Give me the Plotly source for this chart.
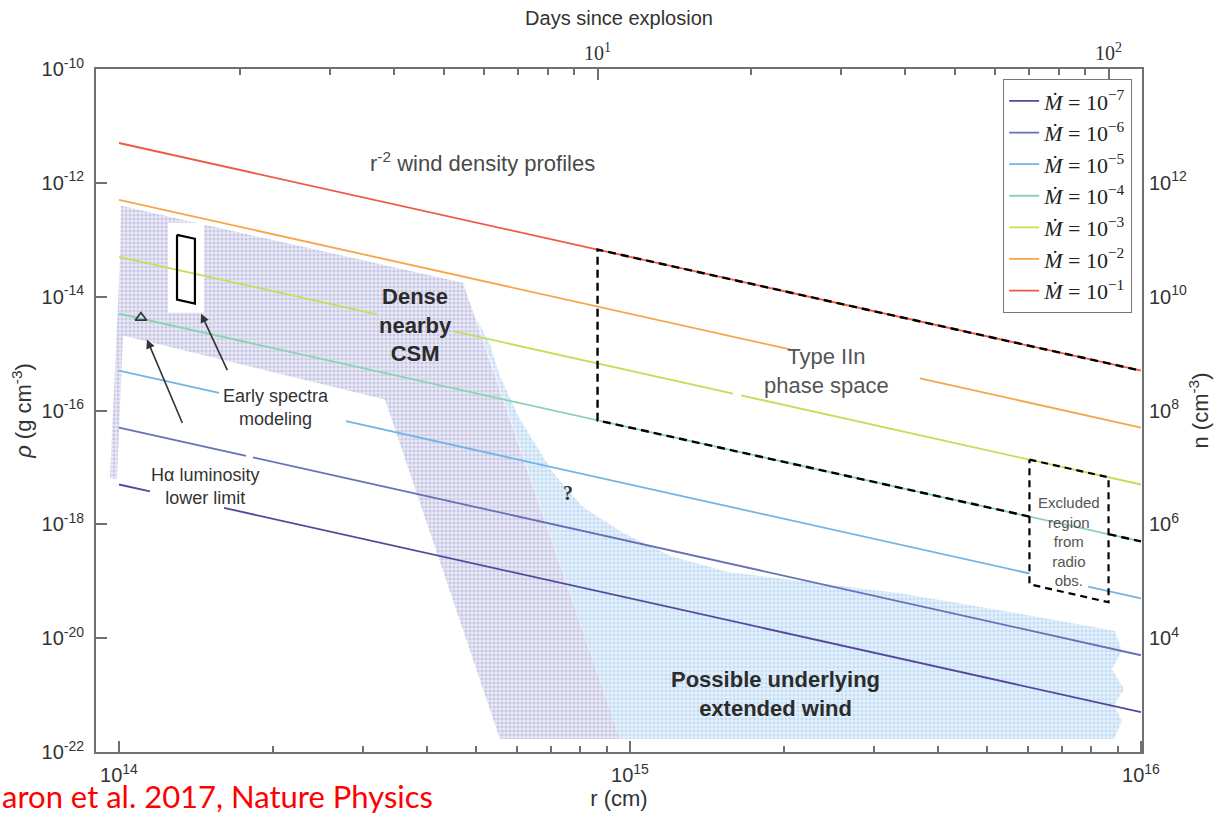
import math
import plotly.graph_objects as go

W, H = 1220, 813
ML, MR, MT, MB = 96, 78, 69, 61

# ---------------- data ----------------
mdot_exp = [-7, -6, -5, -4, -3, -2, -1]
line_colors = ["#55489b", "#6771b5", "#70b5e6", "#8ad3b0", "#c6dd55", "#f6a54a", "#ee5a44"]

# r^-2 wind density profiles, r in cm, rho in g cm^-3 (None = gap behind text)
r_m7 = [1e14, 1.150e14, None, 1.605e14, 1e16]
rho_m7 = [5.01e-18, 3.79e-18, None, 1.945e-18, 5.01e-22]
r_m6 = [1e14, 1.773e14, None, 1.829e14, 1e16]
rho_m6 = [5.01e-17, 1.595e-17, None, 1.499e-17, 5.01e-21]
r_m5 = [1e14, 1.569e14, None, 2.781e14, 6.05e15, None, 7.88e15, 1e16]
rho_m5 = [5.01e-16, 2.037e-16, None, 6.48e-17, 1.368e-19, None, 8.07e-20, 5.01e-20]
r_m4 = [1e14, 1e16]
rho_m4 = [5.01e-15, 5.01e-19]
r_m3 = [1e14, 3.198e14, None, 4.504e14, 1.591e15, None, 1.649e15, 1e16]
rho_m3 = [5.01e-14, 4.90e-15, None, 2.47e-15, 1.98e-16, None, 1.845e-16, 5.01e-18]
r_m2 = [1e14, 2.057e15, None, 3.694e15, 1e16]
rho_m2 = [5.01e-13, 1.185e-15, None, 3.67e-16, 5.01e-17]
r_m1 = [1e14, 1e16]
rho_m1 = [5.01e-12, 5.01e-16]

r_lines = [r_m7, r_m6, r_m5, r_m4, r_m3, r_m2, r_m1]
rho_lines = [rho_m7, rho_m6, rho_m5, rho_m4, rho_m3, rho_m2, rho_m1]

# "Dense nearby CSM" region outline
r_dense = [1.009e14, 4.712e14, 9.559e14, 5.567e14, 3.315e14, 1.018e14, 9.91e13, 9.60e13, 9.78e13, 1.0045e14, 1.009e14]
rho_dense = [3.95e-13, 1.76e-14, 1.69e-22, 1.69e-22, 1.56e-16, 2.07e-15, 6.15e-18, 6.68e-18, 2.33e-16, 4.46e-14, 3.95e-13]

# white gap around the early-spectra box
r_gap = [1.247e14, 1.467e14, 1.467e14, 1.247e14, 1.247e14]
rho_gap = [1.99e-13, 1.99e-13, 5.24e-15, 5.24e-15, 1.99e-13]

# "Possible underlying extended wind" region outline
r_wind = [4.995e14, 5.321e14, 5.567e14, 6.091e14, 7.068e14, 8.055e14, 9.646e14, 1.203e15, 1.562e15,
          2.151e15, 3.376e15, 5.298e15, 8.897e15, 9.181e15, 8.776e15, 9.264e15, 8.856e15, 9.181e15,
          8.856e15, 9.559e14, 4.995e14]
rho_wind = [4.28e-15, 1.44e-15, 3.94e-16, 6.95e-17, 8.17e-18, 2.07e-18, 7.24e-19, 2.75e-19, 1.44e-19,
            1.0e-19, 6.15e-20, 3.10e-20, 1.33e-20, 5.91e-21, 2.86e-21, 1.27e-21, 6.68e-22, 3.50e-22,
            1.69e-22, 1.69e-22, 4.28e-15]

# Type IIn phase space (dashed)
r_iin = [6.05e15, 8.64e14, 8.64e14, 1e16, None, 8.64e15, 1e16]
rho_iin = [1.368e-18, 6.71e-17, 6.71e-14, 5.01e-16, None, 6.71e-19, 5.01e-19]

# Excluded region from radio obs. (dashed)
r_excl = [6.05e15, 8.64e15, 8.64e15, 6.05e15, 6.05e15]
rho_excl = [1.368e-17, 6.71e-18, 4.28e-20, 8.86e-20, 1.368e-17]

# Early spectra modeling box
r_box = [1.2988e14, 1.408e14, 1.408e14, 1.2988e14, 1.2988e14]
rho_box = [1.22e-13, 1.04e-13, 7.53e-15, 8.85e-15, 1.22e-13]

# H-alpha luminosity lower limit
r_tri = [1.104e14]
rho_tri = [4.28e-15]

# axes
x_log_range = [13.955, 16.002]
y_log_range = [-22, -10]
v_cm_s = 1e9          # 10^4 km/s, r -> days conversion for the top axis
n_per_rho = 1e24      # right axis scale
x_ticks = [1e14, 1e15, 1e16]
x_ticktext = ["10<sup>14</sup>", "10<sup>15</sup>", "10<sup>16</sup>"]
y_ticks = [1e-10, 1e-12, 1e-14, 1e-16, 1e-18, 1e-20, 1e-22]
y_ticktext = ["10<sup>-10</sup>", "10<sup>-12</sup>", "10<sup>-14</sup>", "10<sup>-16</sup>",
              "10<sup>-18</sup>", "10<sup>-20</sup>", "10<sup>-22</sup>"]
day_ticks = [10, 100]
day_ticktext = ["10<sup>1</sup>", "10<sup>2</sup>"]
n_ticks = [1e4, 1e6, 1e8, 1e10, 1e12]
n_ticktext = ["10<sup>4</sup>", "10<sup>6</sup>", "10<sup>8</sup>", "10<sup>10</sup>", "10<sup>12</sup>"]

# ---------------- figure ----------------
SANS = "Liberation Sans, Arial, Helvetica, sans-serif"
SERIF = "Liberation Serif, Times New Roman, serif"
AX = "#707070"

fig = go.Figure()

fig.add_trace(go.Scatter(
    x=r_wind, y=rho_wind, mode="lines", fill="toself", line=dict(width=0, color="rgba(0,0,0,0)"),
    fillcolor="#e3eef9",
    fillpattern=dict(shape=".", fgcolor="#9cc8ee", bgcolor="#e6f0fa", size=4, solidity=0.45),
    showlegend=False, hoverinfo="skip"))
fig.add_trace(go.Scatter(
    x=r_dense, y=rho_dense, mode="lines", fill="toself", line=dict(width=0, color="rgba(0,0,0,0)"),
    fillcolor="#e4e3f2",
    fillpattern=dict(shape=".", fgcolor="#a5a3d4", bgcolor="#e9e8f5", size=4, solidity=0.45),
    showlegend=False, hoverinfo="skip"))
fig.add_trace(go.Scatter(
    x=r_gap, y=rho_gap, mode="lines", fill="toself", line=dict(width=0, color="white"),
    fillcolor="white", showlegend=False, hoverinfo="skip"))

for e, c, rx, ry in zip(mdot_exp, line_colors, r_lines, rho_lines):
    fig.add_trace(go.Scatter(
        x=rx, y=ry, mode="lines", line=dict(color=c, width=1.8), connectgaps=False,
        name="<i>M\u0307</i> = 10<sup>\u2212%d</sup>" % abs(e), hoverinfo="skip"))

fig.add_trace(go.Scatter(x=r_iin, y=rho_iin, mode="lines", connectgaps=False,
                         line=dict(color="black", width=2.4, dash="8px,5px"),
                         showlegend=False, hoverinfo="skip"))
fig.add_trace(go.Scatter(x=r_excl, y=rho_excl, mode="lines",
                         line=dict(color="black", width=2.2, dash="7px,5px"),
                         showlegend=False, hoverinfo="skip"))
fig.add_trace(go.Scatter(x=r_box, y=rho_box, mode="lines",
                         line=dict(color="black", width=2.2),
                         showlegend=False, hoverinfo="skip"))
fig.add_trace(go.Scatter(x=r_tri, y=rho_tri, mode="markers",
                         marker=dict(symbol="triangle-up-open", size=10, color="#333",
                                     line=dict(width=1.6, color="#333")),
                         showlegend=False, hoverinfo="skip"))

# invisible traces so the top (days) and right (n) axes are drawn
shift = math.log10(v_cm_s * 86400)
fig.add_trace(go.Scatter(x=day_ticks, y=[1e-21, 1e-21], xaxis="x2", yaxis="y", mode="markers",
                         marker=dict(opacity=0), showlegend=False, hoverinfo="skip"))
fig.add_trace(go.Scatter(x=[1e15, 1e15], y=[1e4, 1e6], xaxis="x", yaxis="y2", mode="markers",
                         marker=dict(opacity=0), showlegend=False, hoverinfo="skip"))

minor_r = [m * 10 ** k for k in (14, 15) for m in range(2, 10)]
minor_d = [m * 10 ** k for k in (0, 1) for m in range(2, 10)]

fig.update_layout(
    width=W, height=H,
    margin=dict(l=ML, r=MR, t=MT, b=MB, autoexpand=False),
    paper_bgcolor="white", plot_bgcolor="white",
    font=dict(family=SANS, color="#333"),
    showlegend=True,
    legend=dict(x=0.9904, xanchor="right", y=0.9854, yanchor="top",
                bgcolor="white", bordercolor="#777", borderwidth=1.2,
                font=dict(family=SERIF, size=22, color="#222"),
                itemwidth=30, tracegroupgap=0),
    xaxis=dict(type="log", range=x_log_range, showgrid=False, zeroline=False,
               showline=True, linecolor=AX, linewidth=2, mirror=True,
               ticks="inside", ticklen=11, tickwidth=1.5, tickcolor=AX,
               tickvals=x_ticks, ticktext=x_ticktext, ticklabelstandoff=4,
               tickfont=dict(family=SANS, size=20, color="#333"),
               minor=dict(tickvals=minor_r, ticks="inside", ticklen=6, tickwidth=1.5, tickcolor=AX,
                          showgrid=False),
               title=dict(text="r (cm)", font=dict(family=SANS, size=22, color="#333"), standoff=2),
               automargin=False),
    xaxis2=dict(type="log", overlaying="x", side="top", anchor="y",
                range=[x_log_range[0] - shift, x_log_range[1] - shift],
                showgrid=False, zeroline=False, showline=False,
                ticks="inside", ticklen=11, tickwidth=1.5, tickcolor=AX,
                tickvals=day_ticks, ticktext=day_ticktext, ticklabelstandoff=4,
                tickfont=dict(family=SERIF, size=20, color="#333"),
                minor=dict(tickvals=minor_d, ticks="inside", ticklen=6, tickwidth=1.5, tickcolor=AX,
                           showgrid=False),
                title=dict(text="Days since explosion", font=dict(family=SANS, size=20, color="#333"),
                           standoff=8),
                automargin=False),
    yaxis=dict(type="log", range=y_log_range, showgrid=False, zeroline=False,
               showline=True, linecolor=AX, linewidth=2, mirror=True,
               ticks="inside", ticklen=11, tickwidth=1.5, tickcolor=AX,
               tickvals=y_ticks, ticktext=y_ticktext, ticklabelstandoff=6,
               tickfont=dict(family=SANS, size=20, color="#333"),
               title=dict(text="<i>\u03c1</i> (g cm<sup>-3</sup>)",
                          font=dict(family=SANS, size=22, color="#333"), standoff=4),
               automargin=False),
    yaxis2=dict(type="log", overlaying="y", side="right", anchor="x",
                range=[y_log_range[0] + math.log10(n_per_rho), y_log_range[1] + math.log10(n_per_rho)],
                showgrid=False, zeroline=False, showline=False, ticks="",
                tickvals=n_ticks, ticktext=n_ticktext, ticklabelstandoff=6,
                tickfont=dict(family=SANS, size=20, color="#333"),
                title=dict(text="n (cm<sup>-3</sup>)", font=dict(family=SANS, size=22, color="#333"),
                           standoff=6),
                automargin=False),
)

notes = [
    ("r<sup>-2</sup> wind density profiles", 14.7123, -11.632, 22, False, "#4a4a4a", SANS),
    ("Dense<br>nearby<br>CSM", 14.5793, -14.491, 22, True, "#2b2b2b", SANS),
    ("Type IIn<br>phase space", 15.3836, -15.298, 22, False, "#555555", SANS),
    ("Early spectra<br>modeling", 14.3072, -15.947, 18, False, "#333333", SANS),
    ("H\u03b1 luminosity<br>lower limit", 14.1683, -17.333, 18, False, "#333333", SANS),
    ("?", 14.8787, -17.456, 20, True, "#333333", SERIF),
    ("Excluded<br>region<br>from<br>radio<br>obs.", 15.8591, -18.298, 15, False, "#555555", SANS),
    ("Possible underlying<br>extended wind", 15.2838, -20.982, 22, True, "#2b2b2b", SANS),
]
for txt, x, y, size, bold, col, fam in notes:
    fig.add_annotation(x=x, y=y, xref="x", yref="y", text=("<b>%s</b>" % txt) if bold else txt,
                       showarrow=False, font=dict(family=fam, size=size, color=col),
                       xanchor="center", yanchor="middle", align="center")

arrows = [
    (14.1605, -14.298, 14.2133, -15.316),
    (14.0548, -14.754, 14.1252, -16.246),
]
for hx, hy, tx, ty in arrows:
    fig.add_annotation(x=hx, y=hy, ax=tx, ay=ty, xref="x", yref="y", axref="x", ayref="y",
                       text="", showarrow=True, arrowhead=2, arrowsize=1.1, arrowwidth=1.6,
                       arrowcolor="#333")

# citation text in the bottom-left corner (pixel x=0, y=796 converted to paper fractions)
fig.add_annotation(x=(0 - ML) / (W - ML - MR), y=(H - MB - 796) / (H - MT - MB),
                   xref="paper", yref="paper", text="aron et al. 2017, Nature Physics",
                   showarrow=False, xanchor="left", yanchor="middle",
                   font=dict(family="Lato, Open Sans, sans-serif", size=31, color="#ff0000"))

fig.write_html("out.html")
